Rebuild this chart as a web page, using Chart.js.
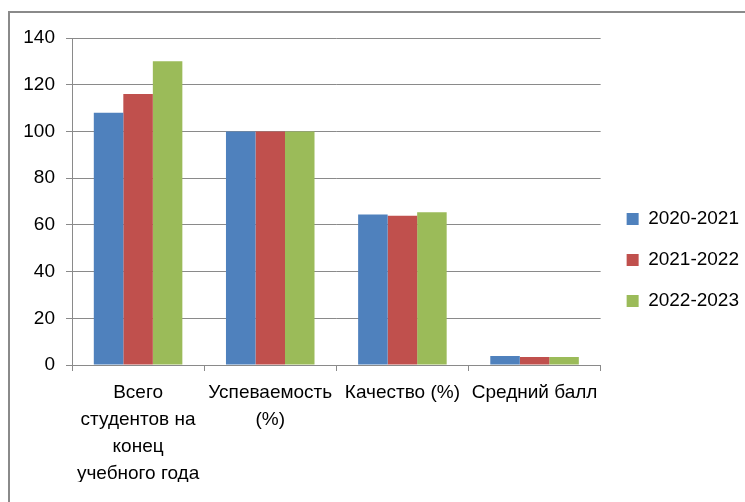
<!DOCTYPE html>
<html>
<head>
<meta charset="utf-8">
<script src="https://cdn.jsdelivr.net/npm/chart.js@4.4.1/dist/chart.umd.min.js"></script>
<style>
  html, body { margin: 0; padding: 0; background: #fff; overflow: hidden; }
  #wrap { position: relative; width: 745px; height: 502px; }
  #frame { position: absolute; left: 8px; top: 11px; width: 800px; height: 600px;
           border-left: 2px solid #8a8a8a; border-top: 2px solid #8a8a8a; box-sizing: border-box; }
  canvas { position: absolute; left: 0; top: 0; }
</style>
</head>
<body>
<div id="wrap">
  <div id="frame"></div>
  <canvas id="c" width="745" height="502"></canvas>
</div>
<script>
const categories = [
  ["Всего", "студентов на", "конец", "учебного года"],
  ["Успеваемость", "(%)"],
  ["Качество (%)"],
  ["Средний балл"]
];
const seriesNames = ["2020-2021", "2021-2022", "2022-2023"];
const values2020 = [108, 100, 64.4, 3.8];
const values2021 = [116, 100, 63.9, 3.4];
const values2022 = [130, 100, 65.4, 3.4];
const yTicks = [0, 20, 40, 60, 80, 100, 120, 140];

const colors = ["#4F81BD", "#C0504D", "#9BBB59"];
const FONT = "'Liberation Sans', Arial, sans-serif";
const GRID = "#8a8a8a";

const legendShift = {
  id: "legendShift",
  afterLayout(chart) {
    if (chart.legend) {
      chart.legend.left += 4;
      chart.legend.right += 4;
    }
  }
};

new Chart(document.getElementById("c"), {
  type: "bar",
  data: {
    labels: categories,
    datasets: [
      { label: seriesNames[0], data: values2020, backgroundColor: colors[0] },
      { label: seriesNames[1], data: values2021, backgroundColor: colors[1] },
      { label: seriesNames[2], data: values2022, backgroundColor: colors[2] }
    ]
  },
  plugins: [legendShift],
  options: {
    responsive: false,
    animation: false,
    devicePixelRatio: 1,
    categoryPercentage: 0.67,
    barPercentage: 1.0,
    layout: { padding: { top: 38, left: 0, right: 0, bottom: 20 } },
    plugins: {
      tooltip: { enabled: false },
      legend: {
        position: "right",
        maxWidth: 146,
        labels: {
          boxWidth: 12,
          boxHeight: 12,
          padding: 22,
          color: "#000",
          font: { family: FONT, size: 19 }
        }
      }
    },
    scales: {
      x: {
        afterFit: (s) => { s.height = 117; },
        grid: { offset: true, drawOnChartArea: false, drawTicks: true, tickLength: 6, color: GRID },
        border: { color: GRID, width: 1 },
        ticks: {
          color: "#000",
          padding: 8,
          maxRotation: 0,
          autoSkip: false,
          font: { family: FONT, size: 19, lineHeight: 1.42 }
        }
      },
      y: {
        min: 0,
        max: 140,
        afterFit: (s) => { s.width = 72; },
        afterBuildTicks: (s) => { s.ticks = yTicks.map(v => ({ value: v })); },
        grid: { color: GRID, tickLength: 6, drawTicks: true },
        border: { color: GRID, width: 1 },
        ticks: {
          color: "#000",
          padding: 11,
          font: { family: FONT, size: 19 }
        }
      }
    }
  }
});
</script>
</body>
</html>
